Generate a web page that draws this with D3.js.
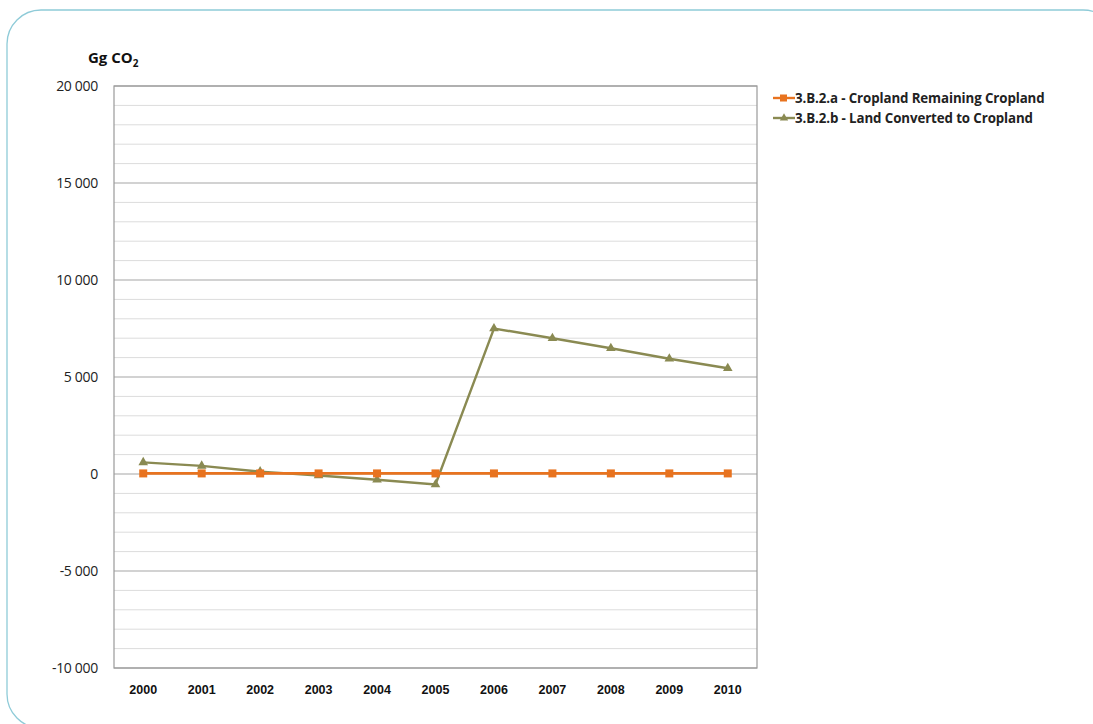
<!DOCTYPE html>
<html>
<head>
<meta charset="utf-8">
<script src="https://cdn.jsdelivr.net/npm/d3@7"></script>
<style>
  html, body { margin: 0; padding: 0; background: #fff; }
  svg { display: block; font-family: "Open Sans", "Noto Sans", sans-serif; }
</style>
</head>
<body>
<svg id="chart" width="1093" height="724"></svg>
<script>
// Emissions / removals by sub-category, Gg CO2
const years = ["2000","2001","2002","2003","2004","2005","2006","2007","2008","2009","2010"];
const croplandRemaining = [30, 30, 30, 30, 30, 30, 30, 30, 30, 30, 30];
const landConverted = [600, 420, 120, -80, -300, -540, 7500, 7000, 6480, 5940, 5450];
const seriesNames = ["3.B.2.a - Cropland Remaining Cropland", "3.B.2.b - Land Converted to Cropland"];
const yTicks = [-10000, -5000, 0, 5000, 10000, 15000, 20000];

const svg = d3.select("#chart");

// rounded panel outline
svg.append("rect")
  .attr("x", 7).attr("y", 10).attr("width", 1110).attr("height", 718)
  .attr("rx", 34).attr("ry", 34)
  .attr("fill", "#fff").attr("stroke", "#8fcbd8").attr("stroke-width", 1.3);

const plot = { left: 114, right: 757, top: 86, bottom: 668 };

const x = d3.scaleBand().domain(years).range([plot.left, plot.right]);
const y = d3.scaleLinear().domain([-10000, 20000]).range([plot.bottom, plot.top]);

// minor gridlines every 1000
const minor = d3.range(-10000, 20001, 1000).filter(v => v % 5000 !== 0);
svg.append("g").selectAll("line").data(minor).join("line")
  .attr("x1", plot.left).attr("x2", plot.right)
  .attr("y1", d => y(d)).attr("y2", d => y(d))
  .attr("stroke", "#dcdcdc").attr("stroke-width", 1);

// major gridlines
svg.append("g").selectAll("line").data(yTicks).join("line")
  .attr("x1", plot.left).attr("x2", plot.right)
  .attr("y1", d => y(d)).attr("y2", d => y(d))
  .attr("stroke", "#a6a6a6").attr("stroke-width", 1.2);

// plot frame
svg.append("rect")
  .attr("x", plot.left).attr("y", plot.top)
  .attr("width", plot.right - plot.left).attr("height", plot.bottom - plot.top)
  .attr("fill", "none").attr("stroke", "#9a9a9a").attr("stroke-width", 1.2);

// y axis labels
const fmt = v => {
  const s = d3.format(",")(Math.abs(v)).replace(/,/g, " ");
  return (v < 0 ? "-" : "") + s;
};
const yAxis = d3.axisLeft(y).tickValues(yTicks).tickFormat(fmt).tickSize(0).tickPadding(16);
const gy = svg.append("g").attr("transform", `translate(${plot.left},0)`).call(yAxis);
gy.select(".domain").remove();
gy.selectAll("text").attr("font-size", 14).attr("fill", "#222")
  .attr("font-family", "'Open Sans', sans-serif").attr("letter-spacing", "-0.3");

// x axis labels
const xAxis = d3.axisBottom(x).tickSize(0).tickPadding(17);
const gx = svg.append("g").attr("transform", `translate(0,${plot.bottom})`).call(xAxis);
gx.select(".domain").remove();
gx.selectAll("text").attr("font-size", 12.5).attr("font-weight", "bold").attr("fill", "#111");

// unit title
const title = svg.append("text").attr("x", 88).attr("y", 63)
  .attr("font-size", 15).attr("font-weight", "bold").attr("fill", "#111");
title.append("tspan").text("Gg CO");
title.append("tspan").text("2").attr("font-size", 10).attr("dy", 4);

const cx = d => x(d) + x.bandwidth() / 2;
const line = d3.line().x((d, i) => cx(years[i])).y(d => y(d));

const colA = "#e8731f", colB = "#8a8a52";

// series b (drawn first)
svg.append("path").datum(landConverted).attr("d", line)
  .attr("fill", "none").attr("stroke", colB).attr("stroke-width", 2.4);
const tri = d3.symbol().type(d3.symbolTriangle).size(40);
svg.append("g").selectAll("path").data(landConverted).join("path")
  .attr("d", tri)
  .attr("transform", (d, i) => `translate(${cx(years[i])},${y(d)})`)
  .attr("fill", colB);

// series a
svg.append("path").datum(croplandRemaining).attr("d", line)
  .attr("fill", "none").attr("stroke", colA).attr("stroke-width", 2.6);
svg.append("g").selectAll("rect").data(croplandRemaining).join("rect")
  .attr("x", (d, i) => cx(years[i]) - 4).attr("y", d => y(d) - 4)
  .attr("width", 8).attr("height", 8).attr("fill", colA);

// legend
const legend = svg.append("g").attr("transform", "translate(773,0)");
const legY = [98, 118];
const legCol = [colA, colB];
legY.forEach((ly, i) => {
  legend.append("line").attr("x1", 0).attr("x2", 22).attr("y1", ly).attr("y2", ly)
    .attr("stroke", legCol[i]).attr("stroke-width", 2.4);
  if (i === 0) {
    legend.append("rect").attr("x", 7).attr("y", ly - 3.5).attr("width", 7).attr("height", 7).attr("fill", colA);
  } else {
    legend.append("path").attr("d", d3.symbol().type(d3.symbolTriangle).size(30))
      .attr("transform", `translate(11,${ly})`).attr("fill", colB);
  }
  legend.append("text").attr("x", 22).attr("y", ly + 4.5)
    .attr("font-size", 13.3).attr("font-weight", "bold").attr("fill", "#222")
    .attr("letter-spacing", "-0.1")
    .text(seriesNames[i]);
});
</script>
</body>
</html>
